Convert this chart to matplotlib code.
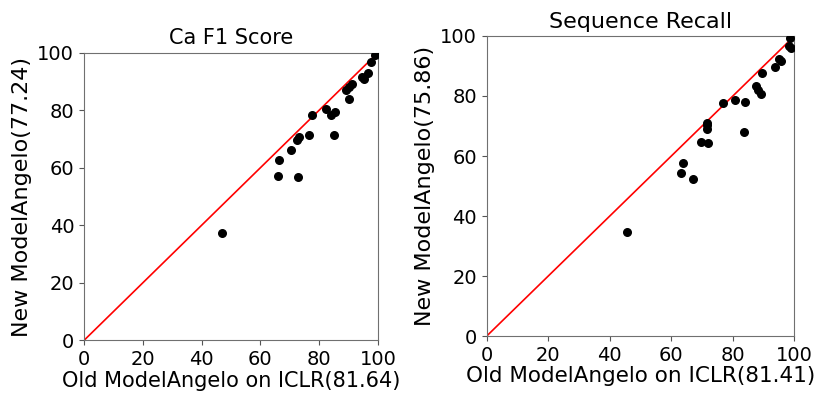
import matplotlib
matplotlib.use('Agg')
import matplotlib.pyplot as plt

# Ca F1 score per structure: old ModelAngelo vs new ModelAngelo
ca_old = [47.0, 65.9, 66.3, 72.8, 70.5, 72.5, 73.1, 76.7, 77.5, 82.3, 84.1, 85.4,
          85.0, 90.0, 89.3, 90.2, 91.1, 94.5, 95.3, 96.5, 97.8, 98.9]
ca_new = [37.4, 57.0, 62.6, 56.8, 66.2, 69.7, 70.6, 71.3, 78.4, 80.5, 78.3, 79.3,
          71.3, 83.9, 87.1, 88.2, 89.2, 91.5, 90.8, 92.9, 96.6, 99.3]

# Sequence recall per structure
seq_old = [45.5, 63.3, 63.9, 66.9, 69.8, 72.0, 71.5, 71.5, 71.5, 76.9, 80.7, 84.0,
           83.5, 87.6, 88.3, 89.2, 89.5, 93.7, 95.1, 95.7, 98.2, 98.9, 98.7]
seq_new = [34.8, 54.3, 57.6, 52.5, 64.8, 64.4, 71.1, 69.1, 70.3, 77.7, 78.6, 78.0,
           68.0, 83.3, 81.9, 80.8, 87.5, 89.7, 92.2, 91.7, 96.8, 96.1, 99.2]

panels = [
    ('Ca F1 Score', 15, 15, ca_old, ca_new, 'Old ModelAngelo on ICLR(81.64)',
     'New ModelAngelo(77.24)', [0.1024, 0.136, 0.3585, 0.7303]),
    ('Sequence Recall', 16, 15.5, seq_old, seq_new, 'Old ModelAngelo on ICLR(81.41)',
     'New ModelAngelo(75.86)', [0.5935, 0.147, 0.3753, 0.7617]),
]

fig = plt.figure(figsize=(8.2, 3.94), dpi=100)

for title, tsize, xsize, old, new, xlab, ylab, pos in panels:
    ax = fig.add_axes(pos)
    ax.scatter(old, new, c='black', s=30, zorder=3)
    ax.plot([0, 100], [0, 100], color='red', linewidth=1.2)
    ax.set_xlim(0, 100)
    ax.set_ylim(0, 100)
    ax.set_xticks([0, 20, 40, 60, 80, 100])
    ax.set_yticks([0, 20, 40, 60, 80, 100])
    ax.tick_params(labelsize=14, color='#555555')
    for sp in ax.spines.values():
        sp.set_color('#707070')
    ax.set_title(title, fontsize=tsize)
    ax.set_xlabel(xlab, fontsize=xsize, labelpad=1)
    ax.set_ylabel(ylab, fontsize=16, labelpad=4)

fig.savefig('out.png', dpi=100)
